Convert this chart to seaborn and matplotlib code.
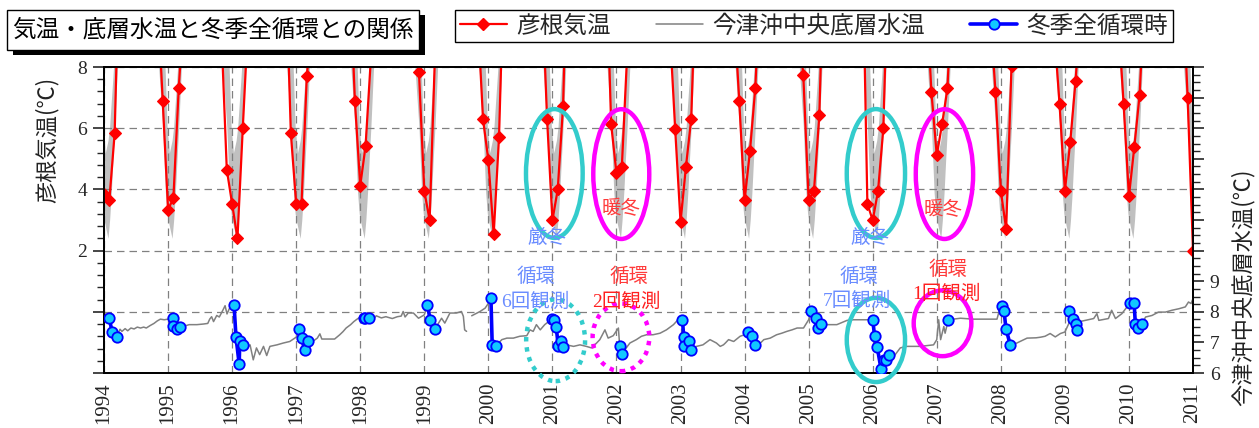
import numpy as np
import pandas as pd
import matplotlib
matplotlib.use("Agg")
import matplotlib.pyplot as plt
import seaborn as sns
from matplotlib.patches import Ellipse, Rectangle
from matplotlib.lines import Line2D
from matplotlib.ticker import FixedLocator

# ---------------- data ----------------
# Hikone monthly air temperature, winter seasons (season = year of January)
season_years = [1994, 1995, 1996, 1997, 1998, 1999, 2000, 2001, 2002,
                2003, 2004, 2005, 2006, 2007, 2008, 2009, 2010, 2011]
air_nov = [np.nan, 10.4, 9.1, 11.6, 11.3, 10.0, 9.7, 10.8, 12.0,
           9.2, 9.9, 9.5, 12.8, 10.5, 9.8, 9.2, 9.6, 11.0]
air_dec = [np.nan, 6.89, 4.65, 5.84, 6.89, 7.84, 6.30, 6.30, 6.14,
           5.96, 6.89, 7.73, 3.53, 7.18, 7.18, 6.79, 6.79, 6.98]
air_jan = [3.84, 3.34, 3.53, 3.53, 4.12, 3.95, 4.95, 2.99, 4.52,
           2.93, 3.64, 3.64, 2.99, 5.11, 3.95, 3.96, 3.77, 2.00]
air_feb = [3.64, 3.71, 2.40, 3.53, 5.42, 2.99, 2.53, 4.00, 4.72,
           4.72, 5.24, 3.95, 3.95, 6.14, 2.70, 5.54, 5.38, 4.80]
air_mar = [5.84, 7.30, 6.01, 7.72, 8.30, 8.40, 5.72, 6.73, 8.40,
           6.30, 7.30, 6.42, 6.01, 7.30, 8.03, 7.55, 7.09, np.nan]
air_apr = [12.7, 10.1, 9.5, 9.5, 13.0, 13.0, 11.8, 13.5, 13.0,
           11.7, 11.0, 12.7, 12.4, 11.0, 13.0, 10.0, 10.7, np.nan]

# grey normal band around each winter (months relative to 1 January)
band_dt = [-2.2, -1.76, -1.0, -0.5, -0.19, 0.25, 0.75, 1.05, 1.37, 1.68, 2.0, 2.5, 2.8]
band_lo = [9.5, 8.0, 6.05, 3.9, 3.2, 2.8, 2.4, 3.0, 3.9, 5.0, 6.05, 8.0, 9.5]
band_hi = [14.0, 12.5, 10.0, 7.7, 6.05, 5.2, 5.6, 6.05, 6.9, 7.7, 8.6, 10.0, 11.0]

# Imazu-oki central bottom water temperature (observations between winters)
water_t = [1994.00, 1994.04, 1994.25, 1994.28, 1994.33, 1994.37, 1994.42, 1994.47,
           1994.52, 1994.57, 1994.62, 1994.66, 1994.72, 1994.78, 1994.83, 1994.88,
           1994.94, 1995.00, 1995.28, 1995.33, 1995.45, 1995.55, 1995.62, 1995.65,
           1995.68, 1995.71, 1995.76, 1995.80, 1995.86, 1995.89, 1995.92, 1995.96,
           1996.00, 1996.23, 1996.28, 1996.33, 1996.38, 1996.43, 1996.49, 1996.54,
           1996.59, 1996.70, 1996.80, 1996.90, 1997.00, 1997.22, 1997.27, 1997.33,
           1997.37, 1997.40, 1997.50, 1997.60, 1997.68, 1997.73, 1997.78, 1997.85,
           1997.90, 1997.95, 1998.00, 1998.20, 1998.25, 1998.33, 1998.40, 1998.50,
           1998.58, 1998.64, 1998.67, 1998.70, 1998.75, 1998.83, 1998.91, 1999.00,
           1999.19, 1999.27, 1999.32, 1999.40, 1999.50, 1999.58, 1999.61, 1999.63,
           1999.66, 1999.74, 1999.87, 1999.95, 2000.02, 2000.21, 2000.29, 2000.39,
           2000.49, 2000.60, 2000.65, 2000.70, 2000.75, 2000.81, 2000.88, 2000.94,
           2001.22, 2001.33, 2001.43, 2001.53, 2001.61, 2001.69, 2001.74, 2001.82,
           2001.87, 2001.95, 2002.03, 2002.21, 2002.31, 2002.39, 2002.47, 2002.57,
           2002.68, 2002.78, 2002.89, 2002.96, 2003.25, 2003.35, 2003.46, 2003.56,
           2003.62, 2003.67, 2003.70, 2003.75, 2003.83, 2003.93, 2004.00, 2004.22,
           2004.30, 2004.40, 2004.50, 2004.58, 2004.66, 2004.74, 2004.82, 2004.92,
           2005.00, 2005.29, 2005.44, 2005.60, 2005.70, 2005.86, 2006.33, 2006.43,
           2006.53, 2006.74, 2006.95, 2007.00, 2007.03, 2007.06, 2007.11, 2007.13,
           2007.26, 2007.37, 2007.57, 2007.78, 2007.94, 2007.98, 2008.00, 2008.25,
           2008.41, 2008.55, 2008.62, 2008.69, 2008.77, 2008.85, 2008.93, 2009.00,
           2009.06, 2009.21, 2009.32, 2009.45, 2009.50, 2009.53, 2009.68, 2009.73,
           2009.79, 2009.89, 2009.97, 2010.00, 2010.26, 2010.36, 2010.46, 2010.57,
           2010.67, 2010.78, 2010.88, 2010.93, 2010.97, 2011.00]
water_v = [8.07, 7.75, 7.43, 7.36, 7.45, 7.38, 7.47, 7.44,
           7.50, 7.47, 7.50, 7.47, 7.55, 7.62, 7.70, 7.76,
           7.74, 7.76, 7.55, 7.58, 7.58, 7.60, 7.62, 7.76,
           7.84, 7.68, 7.88, 7.83, 8.07, 8.20, 7.93, 8.12,
           8.15, 6.82, 6.92, 6.43, 6.82, 6.60, 6.87, 6.57,
           6.87, 6.92, 6.98, 7.03, 7.17, 6.98, 7.05, 7.14,
           7.28, 7.11, 7.11, 7.11, 7.25, 7.35, 7.47, 7.58,
           7.68, 7.76, 7.83, 7.74, 7.87, 7.80, 7.84, 7.78,
           7.84, 7.86, 8.01, 7.83, 7.96, 7.96, 7.79, 7.90,
           7.52, 7.79, 7.63, 7.96, 7.96, 8.01, 7.85, 7.41,
           7.36, 7.87, 8.01, 8.12, 8.34, 7.09, 7.14, 7.14,
           7.20, 7.22, 7.41, 7.36, 7.58, 7.41, 7.58, 7.68,
           6.92, 6.87, 6.92, 6.87, 6.82, 6.98, 7.09, 7.41,
           7.14, 7.22, 7.47, 6.98, 7.09, 7.20, 7.25, 7.25,
           7.30, 7.41, 7.58, 7.74, 6.87, 6.92, 7.09, 6.98,
           6.87, 6.92, 6.98, 7.09, 7.03, 7.20, 7.25, 6.92,
           7.09, 7.14, 7.25, 7.30, 7.36, 7.41, 7.47, 7.47,
           7.74, 7.58, 7.58, 7.72, 7.74, 7.74, 6.54, 6.82,
           6.87, 6.87, 6.92, 7.09, 7.74, 7.09, 7.52, 7.30,
           7.76, 7.79, 7.76, 7.76, 7.76, 8.07, 7.90, 6.98,
           7.14, 7.15, 7.17, 7.20, 7.29, 7.18, 7.29, 7.34,
           7.61, 7.67, 7.72, 7.78, 7.94, 7.72, 7.78, 8.05,
           7.78, 7.94, 8.16, 8.27, 7.83, 7.88, 7.99, 7.99,
           8.05, 8.10, 8.16, 8.32, 8.27, 8.43]
water_gap = 1999.70   # no observations around this date

# observations during winter overturn (全循環時)
circ_t = [1994.08, 1994.13, 1994.20,
          1995.07, 1995.08, 1995.14, 1995.19,
          1996.03, 1996.06, 1996.11, 1996.12, 1996.17,
          1997.04, 1997.09, 1997.13, 1997.18,
          1998.06, 1998.08, 1998.13,
          1999.05, 1999.09, 1999.16,
          2000.04, 2000.06, 2000.12,
          2000.99, 2001.03, 2001.06, 2001.09, 2001.14, 2001.17,
          2002.05, 2002.08,
          2003.03, 2003.05, 2003.06, 2003.14, 2003.16,
          2004.05, 2004.12, 2004.16,
          2005.04, 2005.11, 2005.14, 2005.19,
          2006.00, 2006.03, 2006.07, 2006.13, 2006.17, 2006.20, 2006.25,
          2007.18,
          2008.02, 2008.05, 2008.08, 2008.15,
          2009.07, 2009.12, 2009.17, 2009.19,
          2010.02, 2010.08, 2010.10, 2010.14, 2010.20]
circ_v = [7.79, 7.33, 7.19,
          7.79, 7.52, 7.43, 7.50,
          8.22, 7.19, 6.29, 7.06, 6.92,
          7.43, 7.14, 6.74, 7.03,
          7.79, 7.79, 7.79,
          8.23, 7.74, 7.45,
          8.45, 6.92, 6.89,
          7.76, 7.74, 7.50, 6.89, 7.03, 6.85,
          6.89, 6.62,
          7.74, 7.17, 6.87, 7.05, 6.74,
          7.33, 7.22, 6.90,
          8.03, 7.79, 7.47, 7.61,
          7.74, 7.20, 6.85, 6.13, 6.43, 6.42, 6.60,
          7.74,
          8.20, 8.03, 7.45, 6.90,
          8.02, 7.78, 7.61, 7.42,
          8.30, 8.30, 7.61, 7.47, 7.59]

year_ticks = list(range(1994, 2012))
left_ticks = [-2, 0, 2, 4, 6, 8]
left_labels = ["", "", "2", "4", "6", "8"]
right_ticks = list(range(6, 17))
right_labels = ["6", "7", "8", "9"] + [""] * 7

title_text = "気温・底層水温と冬季全循環との関係"
legend_labels = ["彦根気温", "今津沖中央底層水温", "冬季全循環時"]

# ---------------- build frames ----------------
month_offsets = [-2, -1, 0, 1, 2, 3]
rows = []
for i, y in enumerate(season_years):
    vals = [air_nov[i], air_dec[i], air_jan[i], air_feb[i], air_mar[i], air_apr[i]]
    for m, v in zip(month_offsets, vals):
        if not np.isnan(v):
            rows.append((y + m / 12.0, v, y))
air_df = pd.DataFrame(rows, columns=["t", "v", "season"])

wt = np.concatenate([water_t, circ_t])
wv = np.concatenate([water_v, circ_v])
order = np.argsort(wt, kind="stable")
water_df = pd.DataFrame({"t": wt[order], "v": wv[order]})
water_df["seg"] = (water_df["t"] > water_gap).astype(int)

circ_df = pd.DataFrame({"t": circ_t, "v": circ_v})
circ_df["season"] = np.round(circ_df["t"]).astype(int)

# ---------------- style ----------------
sns.set_style("white")
plt.rcParams["font.family"] = ["Liberation Serif", "Noto Sans CJK JP"]
plt.rcParams["axes.unicode_minus"] = False
CJK = ["Noto Sans CJK JP"]
CJK_SERIF = ["Liberation Serif", "Noto Sans CJK JP"]

W, H = 1259, 428
fig = plt.figure(figsize=(W / 100, H / 100), dpi=100)
ax = fig.add_axes([104 / W, 55 / H, 1089 / W, 306 / H])
ax2 = ax.twinx()

# grey band
for y in season_years:
    bx = y + np.array(band_dt) / 12.0
    ax.fill_between(bx, band_lo, band_hi, color="#c0c0c0", lw=0, zorder=1)

sns.lineplot(data=air_df, x="t", y="v", units="season", estimator=None, sort=False,
             color="#ff0000", lw=1.6, marker="D", markersize=6,
             markeredgecolor="#ff0000", markeredgewidth=0.8, ax=ax, legend=False, zorder=3)

sns.lineplot(data=water_df, x="t", y="v", units="seg", estimator=None, sort=False,
             color="#808080", lw=1.1, ax=ax2, legend=False, zorder=2)
sns.lineplot(data=circ_df, x="t", y="v", units="season", estimator=None, sort=False,
             color="#0000ff", lw=2.6, marker="o", markersize=7.5,
             markerfacecolor="#11c8ff", markeredgecolor="#0000ff", markeredgewidth=1.3,
             ax=ax2, legend=False, zorder=3)

# axes limits / ticks
ax.set_xlim(1994, 2011)
ax.set_ylim(-2, 8)
ax2.set_ylim(6, 16)
ax.set_xlabel("")
ax.set_ylabel("")
ax2.set_ylabel("")

ax.set_xticks(year_ticks)
ax.set_xticklabels([str(y) for y in year_ticks], rotation=90, fontsize=15)
ax.set_yticks(left_ticks)
ax.set_yticklabels(left_labels, fontsize=14)
ax.yaxis.set_minor_locator(FixedLocator(np.arange(-2, 8.01, 0.4)))
ax2.set_yticks(right_ticks)
ax2.set_yticklabels(right_labels, fontsize=14)
ax2.yaxis.set_minor_locator(FixedLocator(np.arange(6, 16.01, 0.25)))

ax.tick_params(axis="x", direction="out", length=6, width=1.2, pad=1)
ax.tick_params(axis="y", which="major", direction="out", length=8, width=1.2, pad=4)
ax.tick_params(axis="y", which="minor", direction="out", length=5, width=1.0)
ax2.tick_params(axis="y", which="major", direction="out", length=8, width=1.2, pad=4)
ax2.tick_params(axis="y", which="minor", direction="out", length=5, width=1.0)

ax.set_axisbelow("line")
ax.grid(True, which="major", axis="both", color="#808080",
        linestyle=(0, (6, 4)), linewidth=0.9)
for a in (ax, ax2):
    for s in a.spines.values():
        s.set_color("black")
        s.set_linewidth(1.3)

# ---------------- annotations ----------------
cyan = "#33cccc"
mag = "#ff00ff"
txt_blue = "#6a8cff"
txt_red = "#ff3b3b"

ellipses = [
    (2001.03, 4.52, 0.885, 4.21, cyan, "-"),
    (2002.075, 4.50, 0.874, 4.24, mag, "-"),
    (2006.05, 4.52, 0.91, 4.21, cyan, "-"),
    (2007.12, 4.50, 0.895, 4.24, mag, "-"),
    (2001.05, -0.93, 0.92, 2.67, cyan, (0, (1, 1.3))),
    (2002.07, -0.835, 0.885, 2.21, mag, (0, (1, 1.3))),
    (2006.05, -0.92, 0.91, 2.75, cyan, "-"),
    (2007.09, -0.375, 0.90, 2.15, mag, "-"),
]
for (cx, cy, w, h, col, ls) in ellipses:
    e = Ellipse((cx, cy), w, h, fill=False, edgecolor=col, linewidth=3.2,
                linestyle=ls, transform=ax.transData, clip_on=False, zorder=6)
    ax2.add_patch(e)

texts = [
    (2000.91, 2.41, "厳冬", txt_blue),
    (2005.95, 2.41, "厳冬", txt_blue),
    (2002.07, 3.36, "暖冬", txt_red),
    (2007.10, 3.31, "暖冬", txt_red),
    (2000.75, 1.16, "循環", txt_blue),
    (2000.73, 0.34, "6回観測", txt_blue),
    (2002.20, 1.16, "循環", txt_red),
    (2002.16, 0.34, "2回観測", "#ff2020"),
    (2005.78, 1.16, "循環", txt_blue),
    (2005.75, 0.37, "7回観測", txt_blue),
    (2007.17, 1.38, "循環", txt_red),
    (2007.15, 0.60, "1回観測", "#ff2020"),
]
for (x, y, s, c) in texts:
    ax2.text(x, y, s, transform=ax.transData, ha="center", va="center",
             fontsize=14, color=c, family=CJK_SERIF, zorder=7)

# axis titles
fig.text(46.7 / W, 1 - 140 / H, "彦根気温(℃)", rotation=90, ha="center", va="center",
         fontsize=16, family=CJK, color="#222222")
fig.text(1243 / W, 1 - 287 / H, "今津沖中央底層水温(℃)", rotation=90, ha="center",
         va="center", fontsize=16, family=CJK, color="#222222")

# title box with shadow
fig.add_artist(Rectangle((13.3 / W, 1 - 55 / H), 412 / W, 40 / H,
                         transform=fig.transFigure, facecolor="black", edgecolor="none"))
fig.add_artist(Rectangle((7.3 / W, 1 - 50 / H), 412 / W, 40 / H,
                         transform=fig.transFigure, facecolor="white", edgecolor="black", lw=1.0))
fig.text(213.3 / W, 1 - 30 / H, title_text, ha="center", va="center",
         fontsize=17, family=CJK, color="black")

# legend
handles = [
    Line2D([], [], color="#ff0000", lw=1.6, marker="D", markersize=6,
           markeredgecolor="#ff0000"),
    Line2D([], [], color="#808080", lw=1.1),
    Line2D([], [], color="#0000ff", lw=2.6, marker="o", markersize=7.5,
           markerfacecolor="#11c8ff", markeredgecolor="#0000ff", markeredgewidth=1.3),
]
leg = fig.legend(handles, legend_labels, loc="upper left",
                 bbox_to_anchor=(455 / W, 1 - 10 / H), ncol=3, frameon=True,
                 fancybox=False, edgecolor="black", framealpha=1,
                 prop={"family": CJK, "size": 17}, handlelength=2.0,
                 columnspacing=1.9, borderpad=0.2, handletextpad=0.4,
                 borderaxespad=0)
leg.get_frame().set_linewidth(1.0)

fig.savefig("out.png", dpi=100)
